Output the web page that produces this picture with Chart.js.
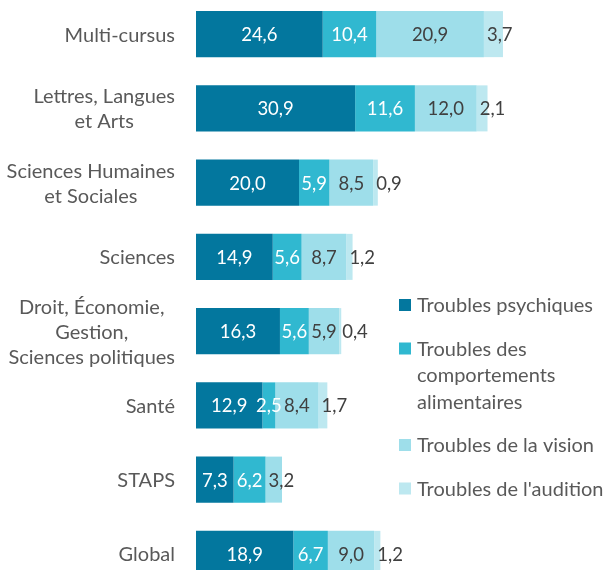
<!DOCTYPE html>
<html>
<head>
<meta charset="utf-8">
<script src="https://cdn.jsdelivr.net/npm/chart.js@4/dist/chart.umd.min.js"></script>
<style>
  html, body { margin: 0; padding: 0; background: #ffffff; overflow: hidden; width: 607px; height: 570px; }
  #wrap { position: absolute; left: 0; top: -3px; width: 607px; height: 594px; }
</style>
</head>
<body>
<div id="wrap"><canvas id="c"></canvas></div>
<script>
const categories = [
  ["Multi-cursus"],
  ["Lettres, Langues", "et Arts"],
  ["Sciences Humaines", "et Sociales"],
  ["Sciences"],
  ["Droit, Économie,", "Gestion,", "Sciences politiques"],
  ["Santé"],
  ["STAPS"],
  ["Global"]
];
const seriesNames = [
  ["Troubles psychiques"],
  ["Troubles des", "comportements", "alimentaires"],
  ["Troubles de la vision"],
  ["Troubles de l'audition"]
];
const psychiques    = [24.6, 30.9, 20.0, 14.9, 16.3, 12.9, 7.3, 18.9];
const comportements = [10.4, 11.6, 5.9, 5.6, 5.6, 2.5, 6.2, 6.7];
const vision        = [20.9, 12.0, 8.5, 8.7, 5.9, 8.4, 3.2, 9.0];
const audition      = [3.7, 2.1, 0.9, 1.2, 0.4, 1.7, null, 1.2];

const colors = ["#03779E", "#30B8D0", "#9EDEEA", "#BDE8F0"];
const labelColors = ["#ffffff", "#ffffff", "#404040", "#404040"];
const FONT = "Lato, 'Open Sans', sans-serif";
const fmt = v => v.toFixed(1).replace('.', ',');

// category labels: block right-aligned next to the axis, lines centred inside the block
const categoryLabels = {
  id: 'categoryLabels',
  afterDraw(chart) {
    const ctx = chart.ctx;
    const scale = chart.scales.y;
    const right = chart.chartArea.left - 21;
    const lineH = 25;
    ctx.save();
    ctx.font = "20px " + FONT;
    ctx.fillStyle = '#595959';
    ctx.textBaseline = 'middle';
    ctx.textAlign = 'center';
    chart.data.labels.forEach((lines, i) => {
      const yc = scale.getPixelForTick(i);
      const w = Math.max(...lines.map(l => ctx.measureText(l).width));
      const cx = right - w / 2;
      const y0 = yc - (lines.length - 1) * lineH / 2;
      lines.forEach((ln, k) => ctx.fillText(ln, cx, y0 + k * lineH + 1));
    });
    ctx.restore();
  }
};

const dataLabels = {
  id: 'dataLabels',
  afterDatasetsDraw(chart) {
    const ctx = chart.ctx;
    ctx.save();
    ctx.font = "18.5px " + FONT;
    ctx.textBaseline = 'middle';
    const n = chart.data.labels.length;
    for (let i = 0; i < n; i++) {
      let lastDs = -1;
      chart.data.datasets.forEach((ds, d) => { if (ds.data[i] != null) lastDs = d; });
      chart.data.datasets.forEach((ds, d) => {
        const v = ds.data[i];
        if (v == null) return;
        const el = chart.getDatasetMeta(d).data[i];
        const start = Math.min(el.base, el.x), end = Math.max(el.base, el.x);
        const txt = fmt(v);
        const tw = ctx.measureText(txt).width;
        ctx.fillStyle = labelColors[d];
        if (d === lastDs && tw + 2 > end - start) {
          ctx.textAlign = 'left';
          ctx.fillText(txt, start + 3, el.y + 1);
        } else {
          ctx.textAlign = 'center';
          ctx.fillText(txt, (start + end) / 2, el.y + 1);
        }
      });
    }
    ctx.restore();
  }
};

const sideLegend = {
  id: 'sideLegend',
  afterDraw(chart) {
    const ctx = chart.ctx;
    ctx.save();
    ctx.font = "20px " + FONT;
    ctx.textBaseline = 'middle';
    ctx.textAlign = 'left';
    const boxX = 399, textX = 417, box = 12, lineH = 26.5, gap = 43.5;
    let y = 308;
    chart.data.datasets.forEach((ds, d) => {
      ctx.fillStyle = ds.backgroundColor;
      ctx.fillRect(boxX, y - box / 2, box, box);
      ctx.fillStyle = '#595959';
      const lines = seriesNames[d];
      lines.forEach((ln, k) => ctx.fillText(ln, textX, y + k * lineH + 1));
      y += (lines.length - 1) * lineH + gap;
    });
    ctx.restore();
  }
};

new Chart(document.getElementById('c'), {
  type: 'bar',
  data: {
    labels: categories,
    datasets: [
      { label: seriesNames[0].join(' '), data: psychiques, backgroundColor: colors[0] },
      { label: seriesNames[1].join(' '), data: comportements, backgroundColor: colors[1] },
      { label: seriesNames[2].join(' '), data: vision, backgroundColor: colors[2] },
      { label: seriesNames[3].join(' '), data: audition, backgroundColor: colors[3] }
    ]
  },
  options: {
    indexAxis: 'y',
    responsive: true,
    maintainAspectRatio: false,
    animation: false,
    layout: { padding: 0 },
    datasets: { bar: { barPercentage: 0.62, categoryPercentage: 1.0, borderWidth: 0 } },
    plugins: { legend: { display: false }, tooltip: { enabled: false } },
    scales: {
      x: { stacked: true, display: false, min: 0, max: 79.8 },
      y: {
        stacked: true,
        grid: { display: false, drawTicks: false },
        border: { display: false },
        ticks: { display: false, autoSkip: false },
        afterFit(scale) { scale.width = 196; scale.paddingTop = 0; scale.paddingBottom = 0; }
      }
    }
  },
  plugins: [dataLabels, categoryLabels, sideLegend]
});
</script>
</body>
</html>
